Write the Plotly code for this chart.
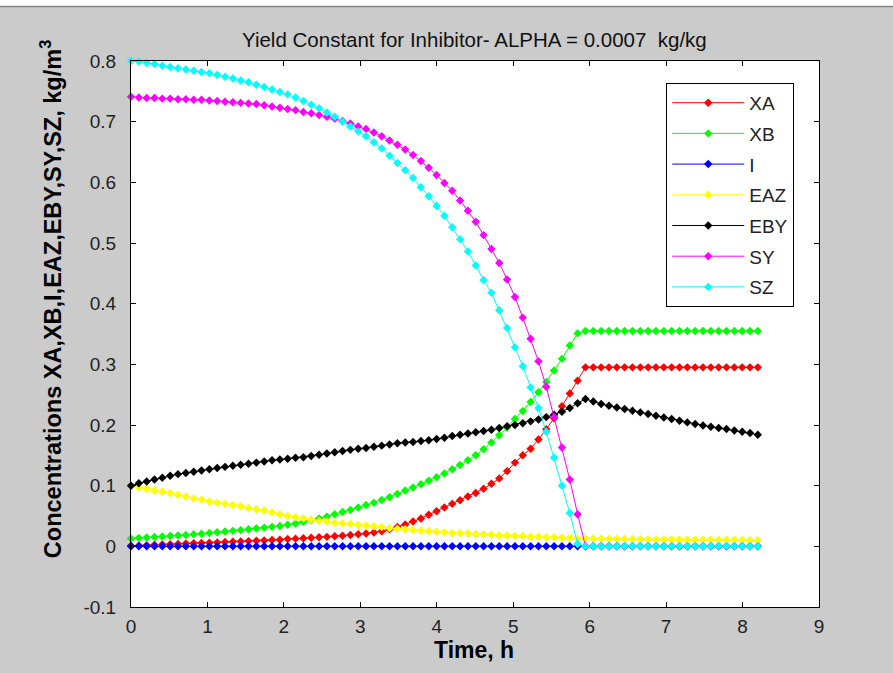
import numpy as np
import plotly.graph_objects as go

# time grid (h)
T_END = 8.2
N_PTS = 81
time_h = np.linspace(0, T_END, N_PTS)

XA = [0.001, 0.0015, 0.002, 0.0025, 0.003, 0.0035, 0.004, 0.0045, 0.005, 0.0055,
      0.006, 0.0065, 0.007, 0.0075, 0.008, 0.0086, 0.0092, 0.0098, 0.0104, 0.011,
      0.012, 0.0127, 0.0134, 0.0141, 0.0148, 0.0156, 0.0165, 0.0175, 0.0186, 0.0198,
      0.0212, 0.0228, 0.0248, 0.028, 0.032, 0.036, 0.041, 0.046, 0.052, 0.058,
      0.064, 0.070, 0.076, 0.082, 0.088, 0.095, 0.103, 0.112, 0.124, 0.138,
      0.150, 0.161, 0.176, 0.193, 0.211, 0.231, 0.252, 0.273, 0.295,
      0.295, 0.295, 0.295, 0.295, 0.295, 0.295, 0.295, 0.295, 0.295, 0.295, 0.295,
      0.295, 0.295, 0.295, 0.295, 0.295, 0.295, 0.295, 0.295, 0.295, 0.295, 0.295]

XB = [0.013, 0.0137, 0.0145, 0.0153, 0.0161, 0.017, 0.0179, 0.0188, 0.0198, 0.0208,
      0.022, 0.0231, 0.0243, 0.0255, 0.0267, 0.028, 0.0293, 0.0307, 0.0321, 0.0336,
      0.0355, 0.0378, 0.0405, 0.0432, 0.046, 0.049, 0.053, 0.0565, 0.060, 0.064,
      0.068, 0.072, 0.0765, 0.081, 0.0865, 0.092, 0.097, 0.1025, 0.108, 0.114,
      0.120, 0.127, 0.134, 0.142, 0.150, 0.160, 0.171, 0.183, 0.196, 0.210,
      0.223, 0.238, 0.254, 0.271, 0.290, 0.309, 0.331, 0.351, 0.355,
      0.355, 0.355, 0.355, 0.355, 0.355, 0.355, 0.355, 0.355, 0.355, 0.355, 0.355,
      0.355, 0.355, 0.355, 0.355, 0.355, 0.355, 0.355, 0.355, 0.355, 0.355, 0.355]

I_INH = [0.0, 0.0, 0.0, 0.0, 0.0, 0.0, 0.0, 0.0, 0.0, 0.0,
         0.0, 0.0, 0.0, 0.0, 0.0, 0.0, 0.0, 0.0, 0.0, 0.0,
         0.0, 0.0, 0.0, 0.0, 0.0, 0.0, 0.0, 0.0, 0.0, 0.0,
         0.0, 0.0, 0.0, 0.0, 0.0, 0.0, 0.0, 0.0, 0.0, 0.0,
         0.0, 0.0, 0.0, 0.0, 0.0, 0.0, 0.0, 0.0, 0.0, 0.0,
         0.0, 0.0, 0.0, 0.0, 0.0, 0.0, 0.0, 0.0, 0.0, 0.0,
         0.0, 0.0, 0.0, 0.0, 0.0, 0.0, 0.0, 0.0, 0.0, 0.0,
         0.0, 0.0, 0.0, 0.0, 0.0, 0.0, 0.0, 0.0, 0.0, 0.0, 0.0]

EAZ = [0.100, 0.097, 0.095, 0.092, 0.090, 0.088, 0.085, 0.082, 0.079, 0.077,
       0.074, 0.072, 0.070, 0.068, 0.066, 0.063, 0.061, 0.059, 0.056, 0.053,
       0.050, 0.048, 0.046, 0.044, 0.042, 0.041, 0.039, 0.038, 0.037, 0.035,
       0.034, 0.033, 0.032, 0.030, 0.029, 0.028, 0.027, 0.026, 0.025, 0.024,
       0.023, 0.022, 0.022, 0.021, 0.020, 0.020, 0.019, 0.018, 0.018, 0.017,
       0.017, 0.016, 0.016, 0.015, 0.015, 0.014, 0.014, 0.013, 0.013,
       0.0128, 0.0126, 0.0124, 0.0122, 0.012, 0.0118, 0.0116, 0.0115, 0.0114, 0.0113, 0.0112,
       0.0111, 0.011, 0.0109, 0.0108, 0.0107, 0.0106, 0.0105, 0.0104, 0.0103, 0.0102, 0.0101]

EBY = [0.100, 0.104, 0.107, 0.110, 0.113, 0.1165, 0.119, 0.121, 0.123, 0.125,
       0.127, 0.129, 0.131, 0.133, 0.1345, 0.136, 0.138, 0.140, 0.142, 0.143,
       0.1445, 0.146, 0.147, 0.149, 0.151, 0.153, 0.155, 0.157, 0.159, 0.161,
       0.162, 0.164, 0.166, 0.168, 0.170, 0.171, 0.172, 0.1735, 0.175, 0.177,
       0.179, 0.182, 0.184, 0.186, 0.188, 0.190, 0.192, 0.195, 0.198, 0.200,
       0.203, 0.206, 0.209, 0.213, 0.217, 0.222, 0.228, 0.236, 0.243,
       0.2389, 0.2346, 0.2318, 0.229, 0.2263, 0.2236, 0.2208, 0.2181, 0.2153, 0.2125, 0.2098,
       0.207, 0.2043, 0.2016, 0.1993, 0.1972, 0.195, 0.1934, 0.1911, 0.189, 0.1868, 0.184]

SY = [0.741, 0.740, 0.739, 0.739, 0.738, 0.738, 0.737, 0.737, 0.736, 0.736,
      0.735, 0.734, 0.733, 0.732, 0.731, 0.730, 0.729, 0.727, 0.725, 0.723,
      0.721, 0.719, 0.716, 0.714, 0.711, 0.708, 0.705, 0.701, 0.697, 0.692,
      0.688, 0.682, 0.676, 0.669, 0.662, 0.654, 0.645, 0.635, 0.624, 0.612,
      0.599, 0.586, 0.570, 0.553, 0.535, 0.513, 0.490, 0.467, 0.440, 0.411,
      0.377, 0.342, 0.305, 0.263, 0.213, 0.163, 0.110, 0.053, 0.0,
      0.0, 0.0, 0.0, 0.0, 0.0, 0.0, 0.0, 0.0, 0.0, 0.0, 0.0,
      0.0, 0.0, 0.0, 0.0, 0.0, 0.0, 0.0, 0.0, 0.0, 0.0, 0.0]

SZ = [0.800, 0.799, 0.797, 0.795, 0.792, 0.790, 0.788, 0.786, 0.784, 0.782,
      0.780, 0.777, 0.774, 0.771, 0.768, 0.765, 0.761, 0.757, 0.753, 0.749,
      0.745, 0.740, 0.734, 0.728, 0.722, 0.715, 0.708, 0.700, 0.692, 0.684,
      0.676, 0.666, 0.656, 0.644, 0.632, 0.620, 0.607, 0.592, 0.577, 0.561,
      0.545, 0.526, 0.506, 0.486, 0.463, 0.439, 0.418, 0.389, 0.360, 0.328,
      0.297, 0.262, 0.228, 0.189, 0.146, 0.100, 0.055, 0.004, 0.0,
      0.0, 0.0, 0.0, 0.0, 0.0, 0.0, 0.0, 0.0, 0.0, 0.0, 0.0,
      0.0, 0.0, 0.0, 0.0, 0.0, 0.0, 0.0, 0.0, 0.0, 0.0, 0.0]

series_names = ["XA", "XB", "I", "EAZ", "EBY", "SY", "SZ"]
series_values = [XA, XB, I_INH, EAZ, EBY, SY, SZ]
series_colors = ["#ff0000", "#00ff00", "#0000ff", "#ffff00", "#000000", "#ff00ff", "#00ffff"]

x_ticks = [0, 1, 2, 3, 4, 5, 6, 7, 8, 9]
y_ticks = [-0.1, 0, 0.1, 0.2, 0.3, 0.4, 0.5, 0.6, 0.7, 0.8]
y_ticktext = ["-0.1", "0", "0.1", "0.2", "0.3", "0.4", "0.5", "0.6", "0.7", "0.8"]

FONT = "Liberation Sans, Arial, sans-serif"

fig = go.Figure()
for i, (name, vals, col) in enumerate(zip(series_names, series_values, series_colors)):
    fig.add_trace(go.Scatter(
        x=time_h, y=vals, name=name, mode="lines+markers",
        line=dict(color=col, width=1),
        marker=dict(symbol="diamond", size=6.5, color=col),
        cliponaxis=False, legendgroup=name,
    ))

axis_common = dict(
    showgrid=False, zeroline=False, showline=True, linecolor="black", linewidth=1,
    mirror="ticks", ticks="inside", ticklen=5, tickcolor="black",
    tickfont=dict(family=FONT, size=19, color="#222222"),
)

fig.update_layout(
    width=893, height=673,
    paper_bgcolor="#cbcbcb", plot_bgcolor="white",
    margin=dict(l=131, r=74, t=61, b=66),
    showlegend=True,
    legend=dict(
        x=0.778, y=0.96, xanchor="left", yanchor="top",
        bgcolor="white", bordercolor="black", borderwidth=1,
        font=dict(family=FONT, size=19, color="#222222"),
        tracegroupgap=3, itemwidth=72,
        entrywidth=130, entrywidthmode="pixels",
    ),
    xaxis=dict(range=[0, 9], tickvals=x_ticks, ticklabelstandoff=2, **axis_common),
    yaxis=dict(range=[-0.1, 0.8], tickvals=y_ticks, ticktext=y_ticktext,
               ticklabelstandoff=10, **axis_common),
    annotations=[
        dict(text="Yield Constant for Inhibitor- ALPHA = 0.0007  kg/kg",
             xref="paper", yref="paper", x=0.499, y=1.0385, xanchor="center", yanchor="middle",
             showarrow=False, font=dict(family=FONT, size=20.5, color="#111111")),
        dict(text="<b>Time, h</b>", xref="paper", yref="paper", x=0.499, y=-0.0795,
             xanchor="center", yanchor="middle", showarrow=False,
             font=dict(family=FONT, size=23, color="black")),
        dict(text="<b>Concentrations XA,XB,I,EAZ,EBY,SY,SZ, kg/m<sup>3</sup></b>",
             xref="paper", yref="paper", x=-0.1163, y=0.5638, textangle=-90,
             xanchor="center", yanchor="middle", showarrow=False,
             font=dict(family=FONT, size=23.5, color="black")),
    ],
    shapes=[
        dict(type="rect", xref="paper", yref="paper", x0=-0.2, x1=1.2, y0=1.1, y1=1.2,
             fillcolor="white", line=dict(width=0), layer="below"),
        dict(type="line", xref="paper", yref="paper", x0=-0.2, x1=1.2, y0=1.1, y1=1.1,
             line=dict(color="#888888", width=1.5)),
    ],
)

fig.write_html("out.html")
